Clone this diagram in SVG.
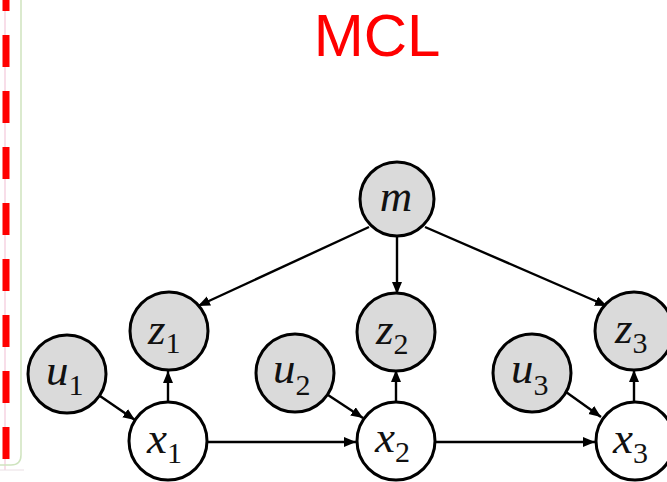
<svg xmlns="http://www.w3.org/2000/svg" width="667" height="482" viewBox="0 0 667 482">
  <style>
    .node circle { stroke: #000; stroke-width: 3; }
    .obs circle { fill: #dadada; }
    .hid circle { fill: #fff; }
    .lbl { font-family: "Liberation Serif", "Times New Roman", serif; font-style: italic; font-size: 45px; fill: #111; }
    .sub { font-style: normal; font-size: 30px; }
    .edge { stroke: #000; stroke-width: 2.4; fill: none; marker-end: url(#arrow); }
    .title { font-family: "Liberation Sans", Arial, sans-serif; font-size: 60px; fill: #ff0000; }
  </style>
  <defs>
    <marker id="arrow" markerUnits="userSpaceOnUse" markerWidth="13" markerHeight="11" refX="12" refY="5" orient="auto">
      <path d="M0,0 L12,5 L0,10 Z" fill="#000"/>
    </marker>
  </defs>

  <rect width="667" height="482" fill="#fff"/>

  <!-- frame edge on the left -->
  <line x1="5" y1="0" x2="5" y2="470" stroke="#f6d3e2" stroke-width="1.5"/>
  <path d="M21 0 V455 Q21 465 11 465 H0" fill="none" stroke="#cfe4bf" stroke-width="1.5"/>
  <line x1="0" y1="470" x2="24" y2="470" stroke="#eadfe4" stroke-width="1"/>
  <line x1="6" y1="0" x2="6" y2="482" stroke="#ff0000" stroke-width="7" stroke-dasharray="32 24" stroke-dashoffset="21"/>

  <text class="title" x="377" y="56" text-anchor="middle">MCL</text>

  <g id="connectors">
    <line class="edge" x1="369" y1="227" x2="198" y2="306"/>
    <line class="edge" x1="397" y1="237" x2="397" y2="294"/>
    <line class="edge" x1="425" y1="227" x2="607" y2="306"/>
    <line class="edge" x1="100" y1="396" x2="135" y2="420"/>
    <line class="edge" x1="328" y1="395" x2="363" y2="418"/>
    <line class="edge" x1="566" y1="392" x2="601" y2="417"/>
    <line class="edge" x1="168" y1="402" x2="168" y2="371"/>
    <line class="edge" x1="396" y1="402" x2="396" y2="370"/>
    <line class="edge" x1="634" y1="402" x2="634" y2="370"/>
    <line class="edge" x1="207" y1="442" x2="356" y2="442"/>
    <line class="edge" x1="435" y1="442" x2="595" y2="442"/>
  </g>

  <g id="m" class="node obs">
    <circle cx="397" cy="199" r="37"/>
    <text class="lbl" x="396" y="211" text-anchor="middle">m</text>
  </g>
  <g id="z1" class="node obs">
    <circle cx="169" cy="331" r="39"/>
    <text class="lbl" x="148" y="344">z<tspan class="sub" dy="9">1</tspan></text>
  </g>
  <g id="z2" class="node obs">
    <circle cx="396" cy="332" r="39"/>
    <text class="lbl" x="376" y="344">z<tspan class="sub" dy="10">2</tspan></text>
  </g>
  <g id="z3" class="node obs">
    <circle cx="634" cy="331" r="39"/>
    <text class="lbl" x="615" y="343">z<tspan class="sub" dy="10">3</tspan></text>
  </g>
  <g id="u1" class="node obs">
    <circle cx="67" cy="374" r="39"/>
    <text class="lbl" x="46" y="385">u<tspan class="sub" dy="10">1</tspan></text>
  </g>
  <g id="u2" class="node obs">
    <circle cx="295" cy="373" r="39"/>
    <text class="lbl" x="273" y="383">u<tspan class="sub" dy="12">2</tspan></text>
  </g>
  <g id="u3" class="node obs">
    <circle cx="532" cy="373" r="39"/>
    <text class="lbl" x="511" y="383">u<tspan class="sub" dy="12">3</tspan></text>
  </g>
  <g id="x1" class="node hid">
    <circle cx="168" cy="441" r="39"/>
    <text class="lbl" x="147" y="453">x<tspan class="sub" dy="10">1</tspan></text>
  </g>
  <g id="x2" class="node hid">
    <circle cx="396" cy="441" r="39"/>
    <text class="lbl" x="375" y="452">x<tspan class="sub" dy="10">2</tspan></text>
  </g>
  <g id="x3" class="node hid">
    <circle cx="635" cy="441" r="39"/>
    <text class="lbl" x="613" y="453">x<tspan class="sub" dy="10">3</tspan></text>
  </g>
</svg>
